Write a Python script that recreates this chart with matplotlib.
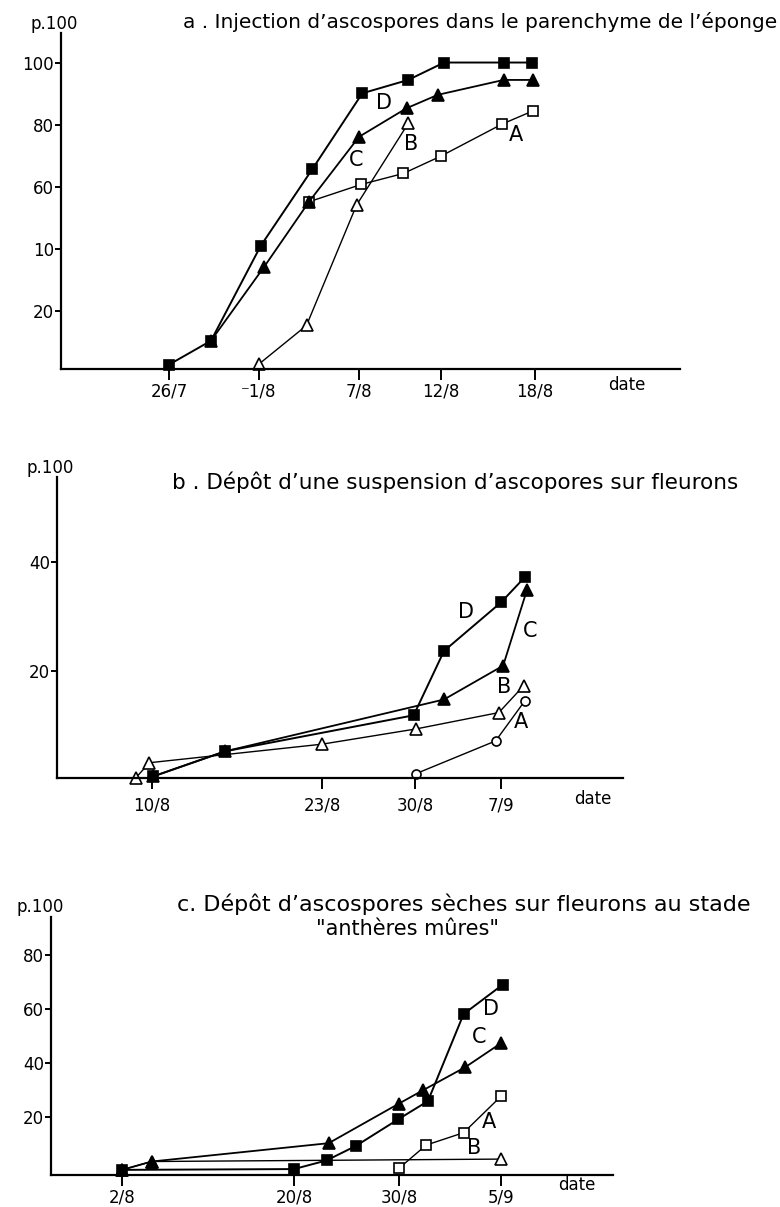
import numpy as np
import matplotlib
matplotlib.use('Agg')
from matplotlib import pyplot as plt

W, H = 780, 1207

# --- panel a : injection (x = day of August, 26/7 = -5) ---
a_days_D = [-5, -2.2, 1.1, 4.2, 7.2, 10.0, 12.2, 16.0, 17.8]
a_val_D = [2.8, 10.5, 41.0, 65.7, 90.1, 94.4, 100, 100, 100]
a_days_C = [-2.2, 1.3, 4.0, 7.0, 9.9, 11.8, 16.0, 17.9]
a_val_C = [10.5, 34.2, 55.2, 76.1, 85.3, 89.6, 94.4, 94.4]
a_days_B = [1.0, 3.85, 6.85, 10.0]
a_val_B = [3.0, 15.4, 54.1, 80.4]
a_days_A = [4.0, 7.15, 9.7, 12.0, 15.9, 17.9]
a_val_A = [55.2, 60.8, 64.3, 69.9, 80.2, 84.5]
a_xticks = [-5, 1, 7, 12, 18]
a_xlabels = ['26/7', '⁻1/8', '7/8', '12/8', '18/8']
a_yticks = [20, 40, 60, 80, 100]
a_ylabels = ['20', '10', '60', '80', '100']
a_letters = {'D': (8.5, 86.9), 'C': (6.8, 68.6), 'B': (10.2, 73.9), 'A': (16.8, 76.7)}

# --- panel b : suspension (x = day of August, 7/9 = 38) ---
b_days_D = [10.1, 15.6, 29.9, 32.7, 38.0, 40.2]
b_val_D = [0.7, 5.3, 11.9, 23.7, 32.6, 37.2]
b_days_C = [10.1, 15.6, 32.7, 38.2, 40.4]
b_val_C = [0.7, 5.3, 14.8, 21.0, 34.8]
b_days_B = [8.75, 9.8, 23.0, 30.1, 37.8, 40.1]
b_val_B = [0.4, 3.2, 6.6, 9.4, 12.4, 17.3]
b_days_A = [30.1, 37.5, 40.2]
b_val_A = [1.2, 7.2, 14.5]
b_xticks = [10, 23, 30, 38]
b_xlabels = ['10/8', '23/8', '30/8', '7/9']
b_yticks = [20, 40]
b_ylabels = ['20', '40']
b_letters = {'D': (34.7, 30.8), 'C': (40.7, 27.4), 'B': (38.3, 17.0), 'A': (39.9, 10.6)}

# --- panel c : dry ascospores (x = day of August, 5/9 = 36) ---
c_days_D = [2.0, 20.0, 23.1, 25.9, 29.9, 31.7, 33.8, 36.1]
c_val_D = [0.3, 0.6, 3.8, 9.2, 19.0, 25.8, 58.1, 69.0]
c_days_C = [2.0, 5.1, 23.3, 30.0, 31.4, 33.9, 36.0]
c_val_C = [0.3, 3.4, 10.2, 24.9, 29.8, 38.4, 47.3]
c_days_B = [2.0, 5.1, 36.0]
c_val_B = [0.3, 3.4, 4.3]
c_days_A = [30.0, 31.6, 33.8, 36.0]
c_val_A = [0.9, 9.5, 14.1, 27.6]
c_xticks = [2, 20, 30, 36]
c_xlabels = ['2/8', '20/8', '30/8', '5/9']
c_yticks = [20, 40, 60, 80]
c_ylabels = ['20', '40', '60', '80']
c_letters = {'D': (35.4, 60.0), 'C': (34.7, 49.5), 'A': (35.3, 18.2), 'B': (34.4, 8.3)}


def fx(px):
    return px / W


def fy(py):
    return 1 - py / H


def hand_axis(ax, days, px, left, right):
    # the date axis was drawn by hand: ticks are not evenly spaced
    d = np.asarray(days, float)
    p = np.asarray(px, float)
    s0 = (p[1] - p[0]) / (d[1] - d[0])
    s1 = (p[-1] - p[-2]) / (d[-1] - d[-2])
    d = np.r_[d[0] - 1000, d, d[-1] + 1000]
    p = np.r_[p[0] - 1000 * s0, p, p[-1] + 1000 * s1]
    fwd = lambda x: np.interp(x, d, p)
    inv = lambda y: np.interp(y, p, d)
    ax.set_xscale('function', functions=(fwd, inv))
    ax.set_xlim(inv(left), inv(right))


def panel(box, ticks_px, ylim, xticks, xlabels, yticks, ylabels, series, letters, xpad):
    left, right, top, bottom = box
    ax = fig.add_axes([fx(left), fy(bottom), fx(right - left), (bottom - top) / H])
    hand_axis(ax, xticks, ticks_px, left, right)
    ax.set_ylim(*ylim)
    for s in ['top', 'right']:
        ax.spines[s].set_visible(False)
    for s in ['left', 'bottom']:
        ax.spines[s].set_linewidth(1.6)
    ax.set_xticks(xticks)
    ax.set_xticklabels(xlabels, fontsize=12)
    ax.set_yticks(yticks)
    ax.set_yticklabels(ylabels, fontsize=12)
    ax.xaxis.set_minor_locator(matplotlib.ticker.NullLocator())
    ax.tick_params(axis='x', length=8, width=1.4, pad=xpad, direction='out')
    ax.tick_params(axis='y', length=4, width=1.4, pad=1, direction='out')
    for (x, y, mk, face, lw, ms) in series:
        ax.plot(x, y, color='black', lw=lw, marker=mk, ms=ms,
                markerfacecolor=face, markeredgecolor='black', markeredgewidth=1.2,
                clip_on=False)
    for k, (x, y) in letters.items():
        ax.text(x, y, k, fontsize=15, ha='center', va='center')
    return ax


fig = plt.figure(figsize=(W / 100, H / 100), dpi=100)

# panel a
panel((61, 680, 33, 369), [169, 259, 359, 441, 535], (1.4, 109.5),
      a_xticks, a_xlabels, a_yticks, a_ylabels,
      [(a_days_A, a_val_A, 's', 'white', 1.0, 6.5),
       (a_days_B, a_val_B, '^', 'white', 1.0, 8),
       (a_days_C, a_val_C, '^', 'black', 1.3, 8),
       (a_days_D, a_val_D, 's', 'black', 1.4, 7)],
      a_letters, 1.5)
fig.text(fx(30), fy(24), 'p.100', fontsize=12, va='center')
fig.text(fx(183), fy(22), 'a . Injection d’ascospores dans le parenchyme de l’éponge',
         fontsize=14.5, va='center')
fig.text(fx(627), fy(385), 'date', fontsize=12, ha='center', va='center')

# panel b
panel((57, 623, 477, 778), [152, 322, 415, 501], (0.4, 55.6),
      b_xticks, b_xlabels, b_yticks, b_ylabels,
      [(b_days_A, b_val_A, 'o', 'white', 1.0, 6.5),
       (b_days_B, b_val_B, '^', 'white', 1.0, 8),
       (b_days_C, b_val_C, '^', 'black', 1.3, 8),
       (b_days_D, b_val_D, 's', 'black', 1.4, 7)],
      b_letters, 5)
fig.text(fx(27), fy(468), 'p.100', fontsize=12, va='center')
fig.text(fx(172), fy(482), 'b . Dépôt d’une suspension d’ascopores sur fleurons',
         fontsize=15.5, va='center')
fig.text(fx(593), fy(799), 'date', fontsize=12, ha='center', va='center')

# panel c
panel((51, 613, 917, 1175), [122, 294, 399, 501], (-1.6, 94.1),
      c_xticks, c_xlabels, c_yticks, c_ylabels,
      [(c_days_A, c_val_A, 's', 'white', 1.0, 6.5),
       (c_days_B, c_val_B, '^', 'white', 1.0, 8),
       (c_days_C, c_val_C, '^', 'black', 1.3, 8),
       (c_days_D, c_val_D, 's', 'black', 1.4, 7)],
      c_letters, 1.5)
fig.text(fx(17), fy(907), 'p.100', fontsize=12, va='center')
fig.text(fx(177), fy(904), 'c. Dépôt d’ascospores sèches sur fleurons au stade',
         fontsize=16, va='center')
fig.text(fx(408), fy(929), '"anthères mûres"', fontsize=15, ha='center', va='center')
fig.text(fx(577), fy(1185), 'date', fontsize=12, ha='center', va='center')

fig.savefig('out.png', dpi=100)
